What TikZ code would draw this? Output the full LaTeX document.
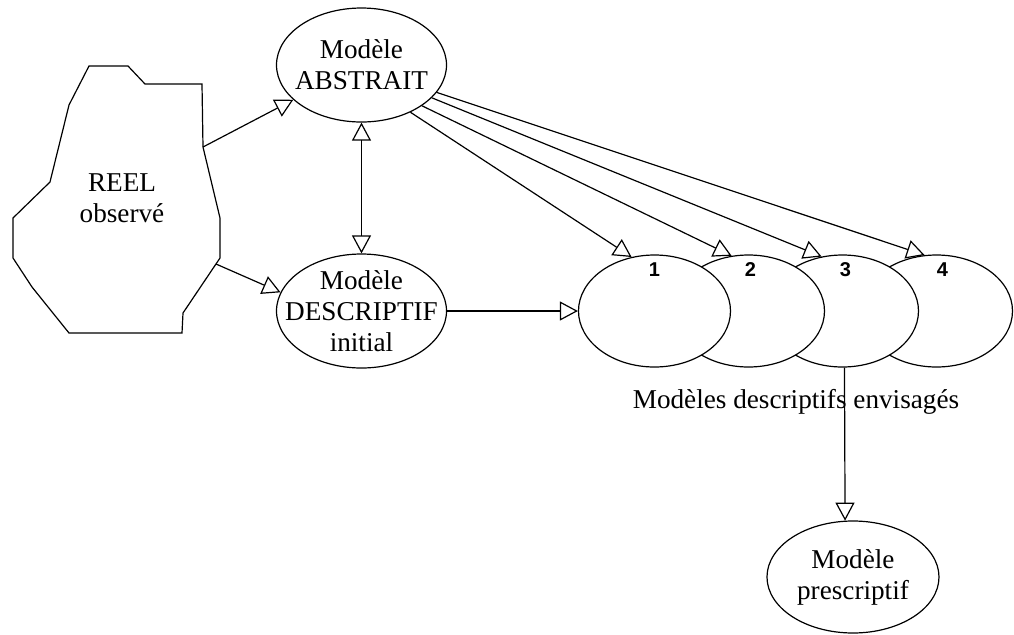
\documentclass[tikz,border=0pt]{standalone}
\usepackage{fontspec}
\setmainfont{Liberation Serif}
\newfontfamily\numfont{Liberation Sans}
\usepackage{tikz}
\usetikzlibrary{shapes, arrows.meta, positioning}
\tikzstyle{model} = [ellipse, draw, fill=white, inner sep=-10pt,
    minimum width=85pt, minimum height=57pt, align=center]
\tikzstyle{variant} = [ellipse, draw, fill=white,
    minimum width=76pt, minimum height=56pt]
\tikzstyle{number} = [font=\numfont\bfseries\fontsize{10}{10}\selectfont]
\tikzstyle{line} = [draw, -{Triangle[open, length=9pt, width=9.5pt]}]
\tikzstyle{both} = [draw, {Triangle[open, length=9pt, width=9.5pt]}-{Triangle[open, length=9pt, width=9.5pt]}]

\begin{document}
\begin{tikzpicture}[x=0.5pt, y=-0.5pt, line width=0.6pt,
    font=\fontsize{13.6}{15.5}\selectfont]
    \useasboundingbox (0,0) rectangle (1014,634);
    % Reel
    \draw (89,66) -- (128,66) -- (145,84) -- (202,84) -- (203,147)
        -- (220,218) -- (220,258) -- (183,313) -- (182,333) -- (69,333)
        -- (32,287) -- (13,258) -- (13,218) -- (50,182) -- (69,105) -- cycle;
    \node [align=center] (reel) at (122,198) {REEL\\observé};
    \coordinate (r1) at (203,147);
    \coordinate (r2) at (216,264);
    % Nodes
    \node [model] (abs) at (361.5,65) {Modèle\\ABSTRAIT};
    \node [model, below of=abs, node distance=123pt] (desc) {Modèle\\DESCRIPTIF\\initial};
    \node [variant, right of=desc, node distance=287.5pt] (e4) {};
    \node [variant, left of=e4, node distance=47pt] (e3) {};
    \node [variant, left of=e3, node distance=47pt] (e2) {};
    \node [variant, left of=e2, node distance=47pt] (e1) {};
    \node [number, above of=e1, node distance=20.5pt] (n1) {1};
    \node [number, above of=e2, node distance=20.5pt, xshift=1pt] (n2) {2};
    \node [number, above of=e3, node distance=20.5pt, xshift=1.5pt] (n3) {3};
    \node [number, above of=e4, node distance=20.5pt, xshift=3pt] (n4) {4};
    \node (envis) at (796,402) {Modèles descriptifs envisagés};
    \node [model, minimum width=86pt, minimum height=56pt] (pres) at (853,577) {Modèle\\prescriptif};
    % Edges
    \path [line] (r1) -- (abs.207);
    \path [line] (r2) -- (desc.167);
    \path [both] (abs) -- (desc);
    \path [line] (abs.-44) -- (e1.113);
    \path [line] (abs.-34) -- (e2.107);
    \path [line] (abs.-25) -- (e3.111);
    \path [line] (abs.-20) -- (e4.102);
    \path [line] (desc) -- (e1);
    \path [line] (e3.-88) -- (pres.98);
\end{tikzpicture}
\end{document}
